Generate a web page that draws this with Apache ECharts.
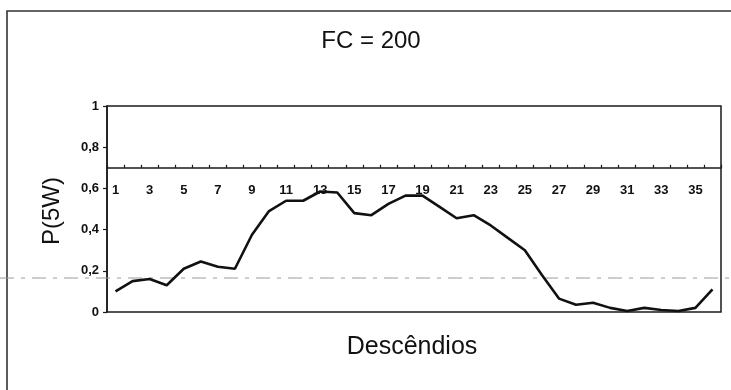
<!DOCTYPE html>
<html>
<head>
<meta charset="utf-8">
<script src="https://cdn.jsdelivr.net/npm/echarts@6/dist/echarts.min.js"></script>
<style>
  html, body { margin: 0; padding: 0; background: #fff; }
  #chart { width: 731px; height: 390px; }
</style>
</head>
<body>
<div id="chart"></div>
<script>
// Descent index 1..36
const categories = Array.from({ length: 36 }, (_, i) => String(i + 1));

// P(5W) per descent, FC = 200
const pValues = [
  0.10, 0.15, 0.16, 0.13, 0.21, 0.245, 0.22, 0.21, 0.375, 0.49,
  0.54, 0.54, 0.585, 0.58, 0.48, 0.47, 0.525, 0.565, 0.565, 0.51,
  0.455, 0.47, 0.42, 0.36, 0.30, 0.18, 0.065, 0.035, 0.045, 0.02,
  0.005, 0.02, 0.01, 0.005, 0.02, 0.11
];

// Value-axis ticks and the level where the category axis crosses it
const yTicks = [0, 0.2, 0.4, 0.6, 0.8, 1];
const axisCrossing = 0.7;
// Reference level shown as a dashed gray line
const referenceLevel = 0.165;

const FONT = '"Liberation Sans", Arial, sans-serif';
const grid = { left: 107, right: 10, top: 106, bottom: 78 };
const gridHeight = 390 - grid.top - grid.bottom;

const chart = echarts.init(document.getElementById('chart'), null, { renderer: 'canvas' });

const option = {
  animation: false,
  backgroundColor: '#fff',
  grid: Object.assign({
    show: true,
    borderColor: '#1a1a1a',
    borderWidth: 1.5,
    backgroundColor: 'transparent'
  }, grid),
  xAxis: {
    type: 'category',
    data: categories,
    boundaryGap: true,
    position: 'bottom',
    offset: -axisCrossing / (yTicks[yTicks.length - 1] - yTicks[0]) * gridHeight,
    axisLine: { onZero: false, lineStyle: { color: '#1a1a1a', width: 1.5 } },
    axisTick: { show: true, inside: true, length: 3, interval: 0, lineStyle: { color: '#1a1a1a', width: 1.2 } },
    axisLabel: {
      interval: 1,
      margin: 16,
      color: '#111',
      fontFamily: FONT,
      fontWeight: 'bold',
      fontSize: 13
    },
    splitLine: { show: false }
  },
  yAxis: {
    type: 'value',
    min: yTicks[0],
    max: yTicks[yTicks.length - 1],
    interval: 0.2,
    axisLine: { show: true, lineStyle: { color: '#1a1a1a', width: 1.5 } },
    axisTick: { show: true, length: 4, lineStyle: { color: '#1a1a1a', width: 1.2 } },
    axisLabel: {
      margin: 8,
      color: '#111',
      fontFamily: FONT,
      fontWeight: 'bold',
      fontSize: 13,
      formatter: v => String(Math.round(v * 10) / 10).replace('.', ',')
    },
    splitLine: { show: false }
  },
  series: [{
    type: 'line',
    data: pValues,
    symbol: 'none',
    smooth: false,
    lineStyle: { color: '#111', width: 2.6 },
    z: 5
  }],
  graphic: [
    // outer chart frame
    {
      type: 'rect',
      shape: { x: 7, y: 11, width: 740, height: 400 },
      style: { fill: 'none', stroke: '#333', lineWidth: 1.6 },
      silent: true,
      z: 1
    },
    {
      type: 'text',
      x: 371, y: 41,
      style: {
        text: 'FC = 200',
        font: '24px ' + FONT,
        fill: '#111',
        align: 'center',
        verticalAlign: 'middle'
      }
    },
    {
      type: 'text',
      x: 412, y: 347,
      style: {
        text: 'Descêndios',
        font: '25px ' + FONT,
        fill: '#111',
        align: 'center',
        verticalAlign: 'middle'
      }
    },
    {
      type: 'text',
      x: 52, y: 211,
      rotation: Math.PI / 2,
      style: {
        text: 'P(5W)',
        font: '24px ' + FONT,
        fill: '#111',
        align: 'center',
        verticalAlign: 'middle'
      }
    }
  ]
};

chart.setOption(option);

// Dashed reference line spanning the full width, placed through the value scale
const refY = chart.convertToPixel({ yAxisIndex: 0 }, referenceLevel);
chart.setOption({
  graphic: option.graphic.concat([{
    type: 'line',
    shape: { x1: 0, y1: refY, x2: 731, y2: refY },
    style: { stroke: '#9a9a9a', lineWidth: 1, lineDash: [14, 7, 4, 7] },
    silent: true,
    z: 2
  }])
});
</script>
</body>
</html>
